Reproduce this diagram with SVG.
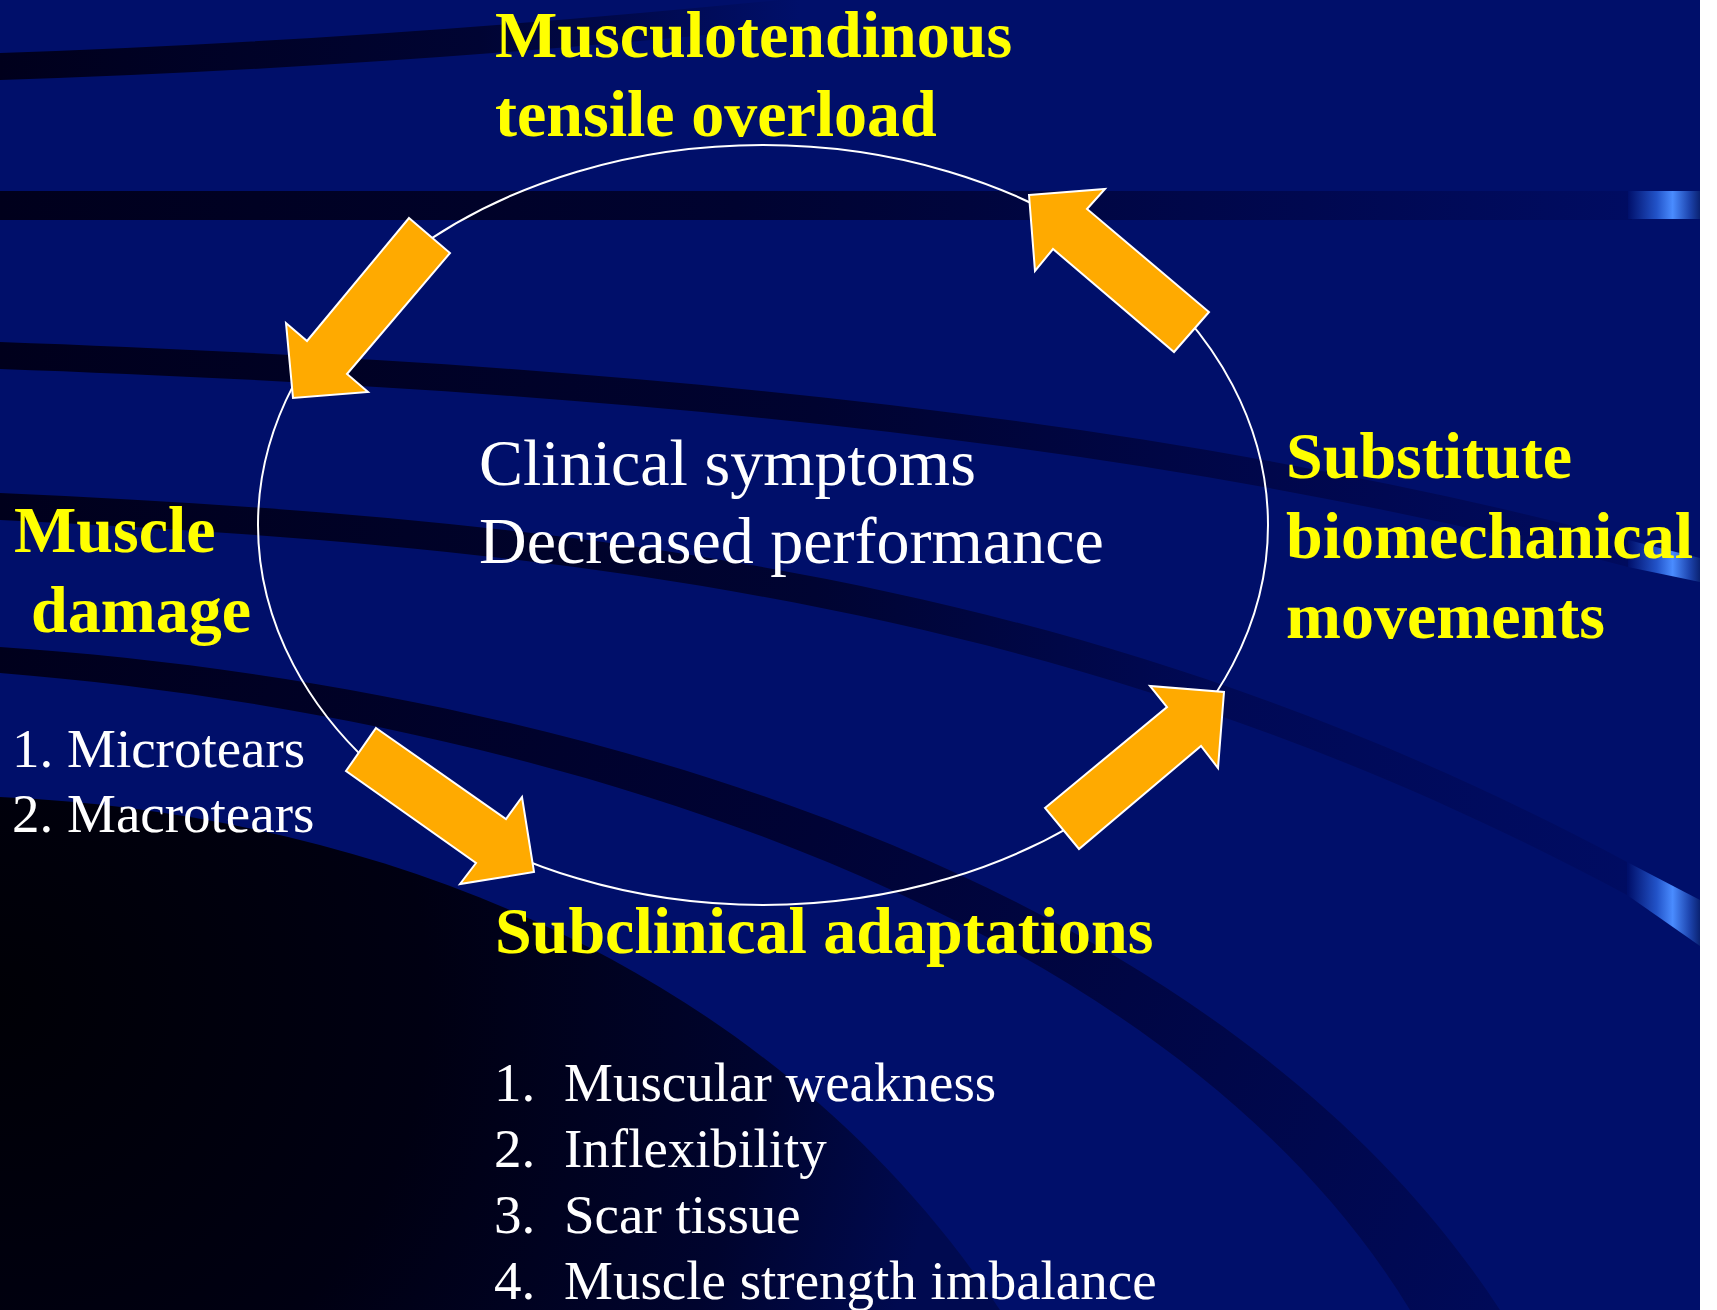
<svg xmlns="http://www.w3.org/2000/svg" width="1717" height="1310" viewBox="0 0 1717 1310">
<defs>
<linearGradient id="gA" gradientUnits="userSpaceOnUse" x1="0" y1="0" x2="800" y2="0">
<stop offset="0" stop-color="#00001C"/><stop offset="0.6" stop-color="#000433"/><stop offset="1" stop-color="#000F6A"/>
</linearGradient>
<linearGradient id="gB" gradientUnits="userSpaceOnUse" x1="0" y1="0" x2="1635" y2="0">
<stop offset="0" stop-color="#00001C"/><stop offset="0.45" stop-color="#000330"/><stop offset="0.8" stop-color="#000850"/><stop offset="1" stop-color="#000C62"/>
</linearGradient>
<linearGradient id="gC" gradientUnits="userSpaceOnUse" x1="0" y1="0" x2="1630" y2="0">
<stop offset="0" stop-color="#00001C"/><stop offset="0.5" stop-color="#000330"/><stop offset="0.85" stop-color="#000852"/><stop offset="1" stop-color="#000B5E"/>
</linearGradient>
<linearGradient id="gD" gradientUnits="userSpaceOnUse" x1="0" y1="0" x2="1630" y2="0">
<stop offset="0" stop-color="#00001C"/><stop offset="0.5" stop-color="#000432"/><stop offset="0.75" stop-color="#000955"/><stop offset="1" stop-color="#000C62"/>
</linearGradient>
<linearGradient id="gE" gradientUnits="userSpaceOnUse" x1="0" y1="650" x2="1500" y2="1310">
<stop offset="0" stop-color="#00001C"/><stop offset="0.5" stop-color="#000335"/><stop offset="1" stop-color="#000A58"/>
</linearGradient>
<radialGradient id="gDark" gradientUnits="userSpaceOnUse" cx="0" cy="1000" r="950">
<stop offset="0" stop-color="#000006"/><stop offset="0.45" stop-color="#000012"/><stop offset="0.8" stop-color="#00042E"/><stop offset="1" stop-color="#000A50"/>
</radialGradient>
<linearGradient id="gRib" gradientUnits="userSpaceOnUse" x1="1628" y1="0" x2="1700" y2="0">
<stop offset="0" stop-color="#000F6A"/><stop offset="0.4" stop-color="#2253C8"/><stop offset="0.62" stop-color="#4A8CFF"/><stop offset="0.85" stop-color="#1E46B0"/><stop offset="1" stop-color="#0A2272"/>
</linearGradient>
<style>
.h{font-family:"Liberation Serif","Times New Roman",serif;font-weight:bold;font-size:66px;fill:#FFFF00}
.c{font-family:"Liberation Serif","Times New Roman",serif;font-size:66px;fill:#FFFFFF}
.l{font-family:"Liberation Serif","Times New Roman",serif;font-size:55px;fill:#FFFFFF}
.arr{fill:#FFAA00;stroke:#FFFFFF;stroke-width:2;stroke-linejoin:miter}
</style>
</defs>
<g id="background">
<rect x="0" y="0" width="1717" height="1310" fill="#FFFFFF"/>
<rect x="0" y="0" width="1700" height="1310" fill="#000F6A"/>
<path d="M0,53 Q380,40 800,-2 L800,26 Q380,68 0,80 Z" fill="url(#gA)"/>
<rect x="0" y="191" width="1632" height="29" fill="url(#gB)"/>
<rect x="1628" y="191" width="72" height="28" fill="url(#gRib)"/>
<path d="M0,342 C500,360 1100,400 1628,540 L1628,567 C1100,427 500,387 0,369 Z" fill="url(#gC)"/>
<path d="M1628,540 L1700,558 L1700,582 L1628,567 Z" fill="url(#gRib)"/>
<path d="M0,493 C600,520 1100,580 1627,862 L1627,895 C1100,612 600,548 0,520 Z" fill="url(#gD)"/>
<path d="M1627,862 L1700,900 L1700,946 L1627,895 Z" fill="url(#gRib)"/>
<path d="M0,647 C500,680 1200,850 1500,1310 L1410,1310 C1160,900 520,715 0,673 Z" fill="url(#gE)"/>
<path d="M0,797 C400,815 780,980 1000,1310 L0,1310 Z" fill="url(#gDark)"/>
</g>
<g id="connectors">
<ellipse cx="763" cy="525" rx="505" ry="380" fill="none" stroke="#FFFFFF" stroke-width="2"/>
<path class="arr" d="M409,218 L450,253 L347,374 L368,392 L293,398 L286,323 L307,341 Z"/>
<path class="arr" d="M1029,195 L1105,189 L1087,209 L1209,312 L1174,352 L1053,249 L1035,271 Z"/>
<path class="arr" d="M376,728 L506,819 L522,797 L534,872 L460,884 L476,863 L346,771 Z"/>
<path class="arr" d="M1045,808 L1167,707 L1150,686 L1224,692 L1218,768 L1201,746 L1079,849 Z"/>
</g>
<g id="node-overload">
<text class="h" x="495" y="57">Musculotendinous</text>
<text class="h" x="495" y="136">tensile overload</text>
</g>
<g id="node-center">
<text class="c" x="479" y="485">Clinical symptoms</text>
<text class="c" x="479" y="563">Decreased performance</text>
</g>
<g id="node-damage">
<text class="h" x="14" y="552">Muscle</text>
<text class="h" x="31" y="632">damage</text>
<text class="l" x="12" y="767">1. Microtears</text>
<text class="l" x="12" y="832">2. Macrotears</text>
</g>
<g id="node-substitute">
<text class="h" x="1286" y="478">Substitute</text>
<text class="h" x="1286" y="558">biomechanical</text>
<text class="h" x="1286" y="638">movements</text>
</g>
<g id="node-subclinical">
<text class="h" x="495" y="953">Subclinical adaptations</text>
<text class="l" x="494" y="1101">1.</text><text class="l" x="564" y="1101">Muscular weakness</text>
<text class="l" x="494" y="1167">2.</text><text class="l" x="564" y="1167">Inflexibility</text>
<text class="l" x="494" y="1233">3.</text><text class="l" x="564" y="1233">Scar tissue</text>
<text class="l" x="494" y="1299">4.</text><text class="l" x="564" y="1299">Muscle strength imbalance</text>
</g>
</svg>
